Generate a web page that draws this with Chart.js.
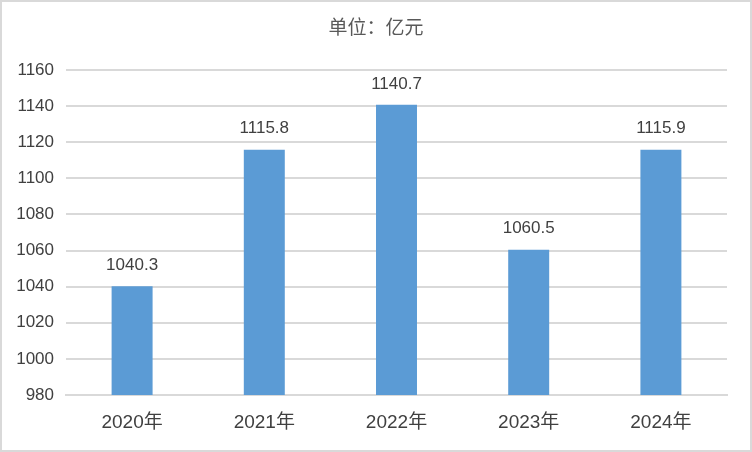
<!DOCTYPE html>
<html>
<head>
<meta charset="utf-8">
<script src="https://cdn.jsdelivr.net/npm/chart.js@4"></script>
<style>
html,body{margin:0;padding:0;background:#fff;}
#wrap{width:752px;height:452px;position:relative;}
</style>
</head>
<body>
<div id="wrap"><canvas id="c" width="752" height="452"></canvas></div>
<script>
const categories = ["2020年","2021年","2022年","2023年","2024年"];
const values = [1040.3, 1115.8, 1140.7, 1060.5, 1115.9];
const yMin = 980, yMax = 1160, yStep = 20;
const titleText = "单位：亿元";
const FONT = "'Liberation Sans','Noto Sans CJK SC',sans-serif";

const framePlugin = {
  id: 'frame',
  beforeDraw(chart) {
    const ctx = chart.ctx;
    ctx.save();
    ctx.fillStyle = '#ffffff';
    ctx.fillRect(0, 0, chart.width, chart.height);
    ctx.strokeStyle = '#d9d9d9';
    ctx.lineWidth = 2;
    ctx.strokeRect(1, 1, chart.width - 2, chart.height - 2);
    ctx.fillStyle = '#595959';
    ctx.font = "19px 'Noto Sans CJK SC',sans-serif";
    ctx.textAlign = 'center';
    ctx.textBaseline = 'middle';
    ctx.fillText(titleText, 376, 27);
    ctx.restore();
  }
};

const labelPlugin = {
  id: 'valueLabels',
  afterDatasetsDraw(chart) {
    const ctx = chart.ctx;
    const meta = chart.getDatasetMeta(0);
    ctx.save();
    ctx.fillStyle = '#404040';
    ctx.font = "17px " + FONT;
    ctx.textAlign = 'center';
    ctx.textBaseline = 'middle';
    meta.data.forEach((bar, i) => {
      ctx.fillText(values[i].toFixed(1), bar.x, bar.y - 21);
    });
    ctx.restore();
  }
};

new Chart(document.getElementById('c'), {
  type: 'bar',
  data: {
    labels: categories,
    datasets: [{
      data: values,
      backgroundColor: '#5b9bd5',
      borderWidth: 0,
      categoryPercentage: 1,
      barPercentage: 0.31
    }]
  },
  options: {
    responsive: false,
    animation: false,
    layout: { padding: { top: 70, right: 25, bottom: 0, left: 0 } },
    plugins: { legend: { display: false }, title: { display: false }, tooltip: { enabled: false } },
    scales: {
      x: {
        grid: { display: false, drawTicks: false },
        border: { display: true, color: '#d9d9d9', width: 2 },
        ticks: { color: '#404040', font: { size: 19, family: FONT }, padding: 16, maxRotation: 0 },
        afterFit(s) { s.height = 57; }
      },
      y: {
        min: yMin, max: yMax,
        grid: { color: '#d9d9d9', lineWidth: 2, drawTicks: false },
        border: { display: false },
        ticks: { stepSize: yStep, color: '#404040', font: { size: 17, family: FONT }, padding: 12,
                 callback: (v) => String(v) },
        afterFit(s) { s.width = 66; }
      }
    }
  },
  plugins: [framePlugin, labelPlugin]
});
</script>
</body>
</html>
